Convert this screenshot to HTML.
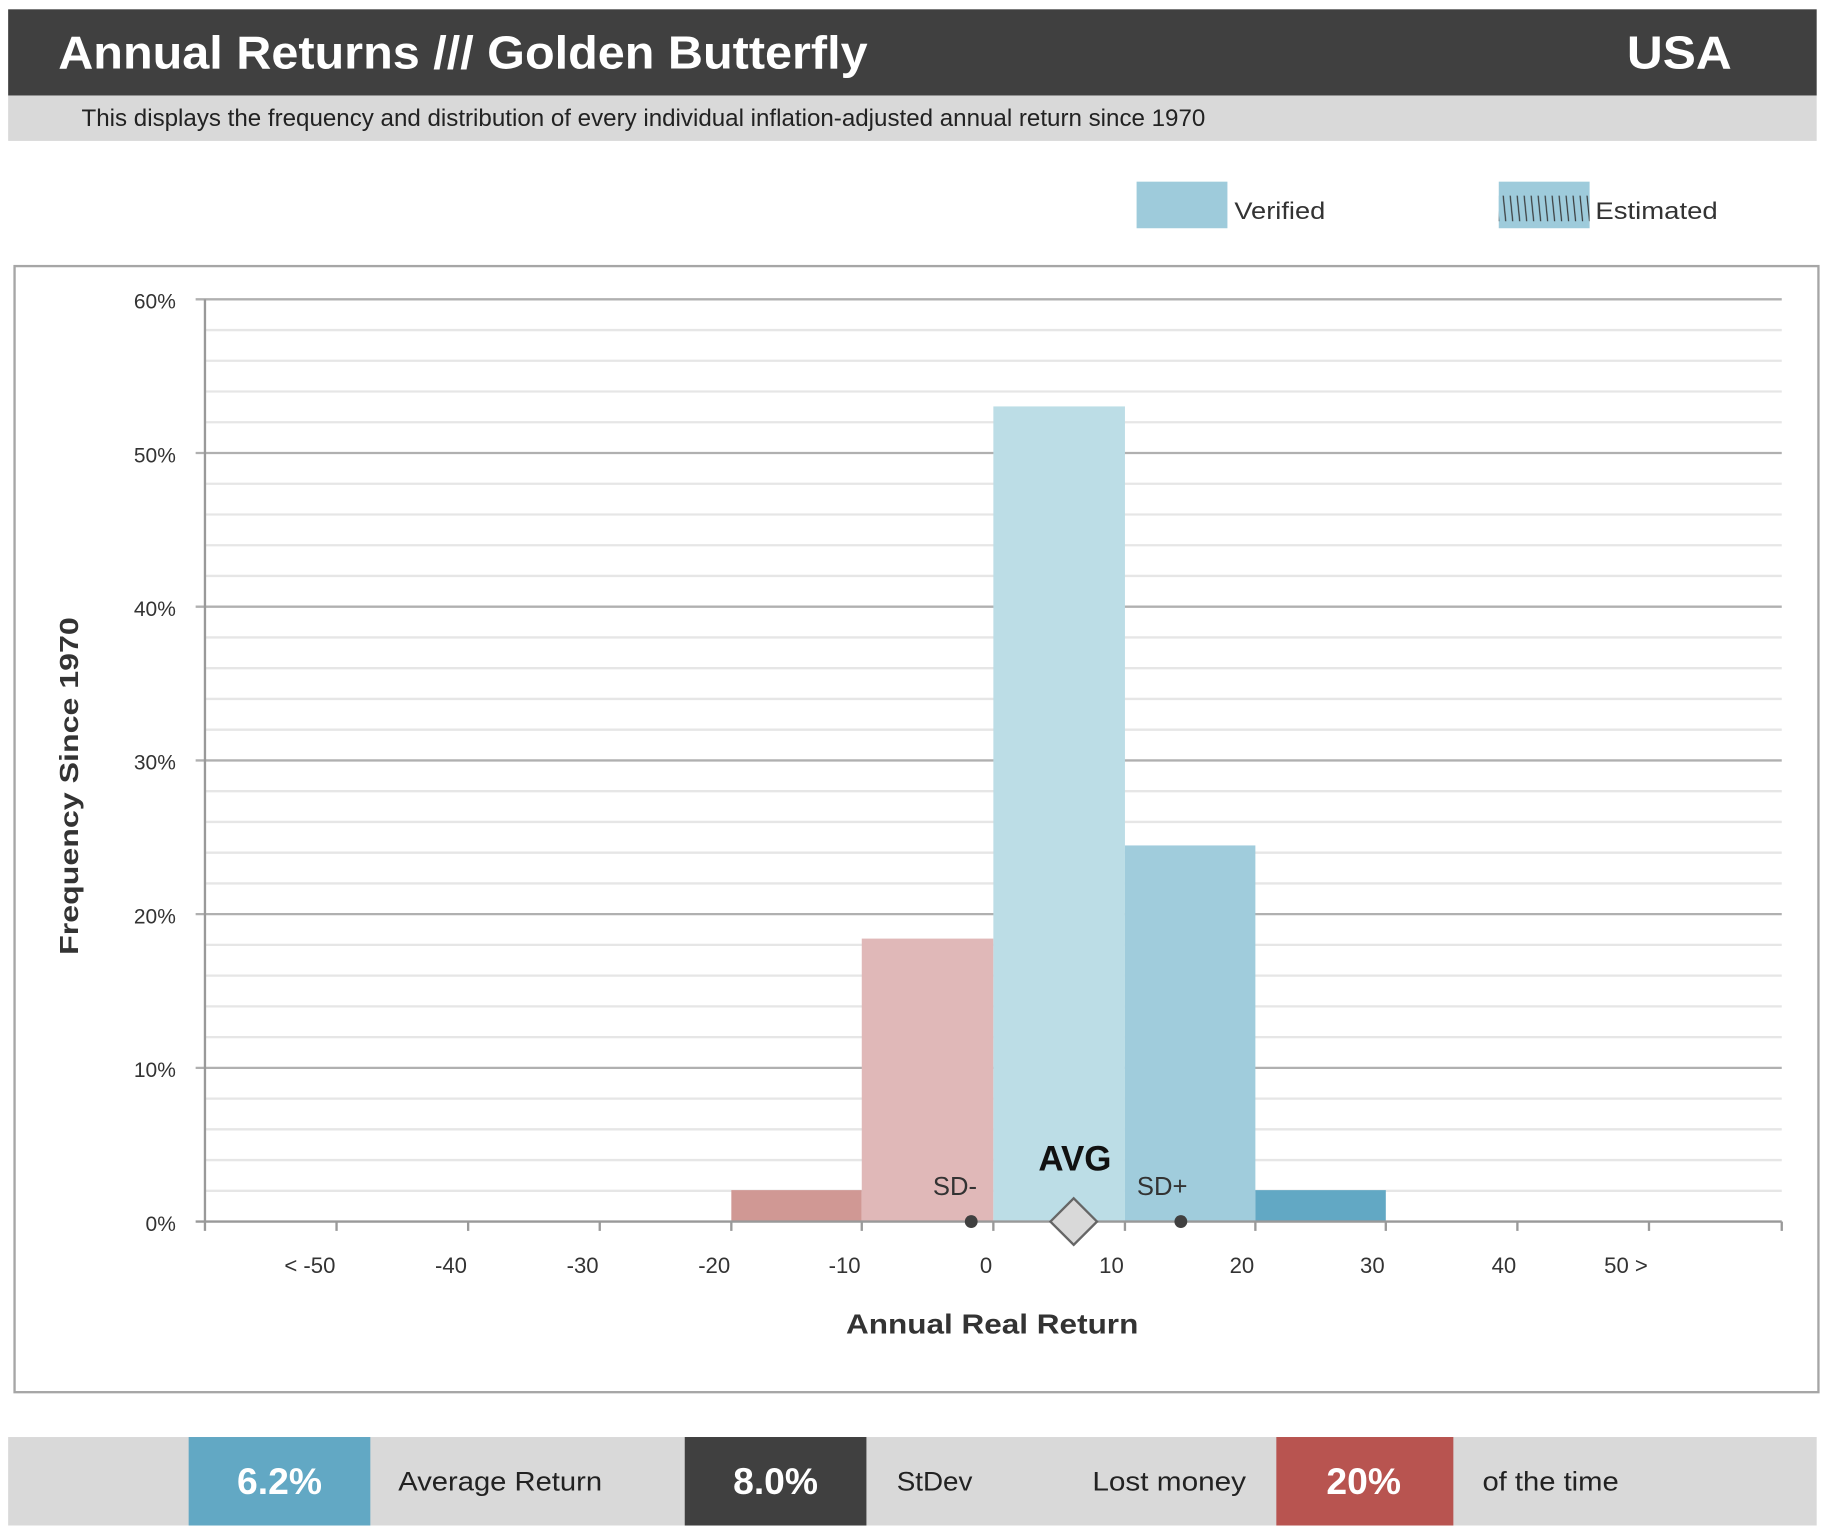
<!DOCTYPE html>
<html><head><meta charset="utf-8"><style>html,body{margin:0;padding:0;background:#fff}svg{display:block}</style></head>
<body>
<svg width="1826" height="1536" viewBox="0 0 1568 1319" preserveAspectRatio="none" xmlns="http://www.w3.org/2000/svg" font-family="Liberation Sans, Arial, sans-serif">
<defs>
<pattern id="h" width="6" height="40" patternUnits="userSpaceOnUse">
<rect width="6" height="40" fill="#9ecbdb"/>
<line x1="0" y1="0" x2="4" y2="40" stroke="#333" stroke-width="1"/>
</pattern>
</defs>
<rect x="7" y="8" width="1553" height="74" fill="#404040"/>
<text x="50" y="59" font-size="40" font-weight="bold" fill="#fff" textLength="695" lengthAdjust="spacingAndGlyphs">Annual Returns /// Golden Butterfly</text>
<text x="1397" y="59" font-size="40" font-weight="bold" fill="#fff" textLength="90" lengthAdjust="spacingAndGlyphs">USA</text>
<rect x="7" y="82" width="1553" height="39" fill="#d9d9d9"/>
<text x="70" y="108" font-size="21" fill="#222" textLength="965" lengthAdjust="spacingAndGlyphs">This displays the frequency and distribution of every individual inflation-adjusted annual return since 1970</text>
<rect x="976" y="156" width="78" height="40" fill="#9ecbdb"/>
<text x="1060" y="188" font-size="21" fill="#333" textLength="78" lengthAdjust="spacingAndGlyphs">Verified</text>
<rect x="1287" y="156" width="78" height="40" fill="#9ecbdb"/>
<rect x="1287" y="168" width="78" height="22" fill="url(#h)"/>
<text x="1370" y="188" font-size="21" fill="#333" textLength="105" lengthAdjust="spacingAndGlyphs">Estimated</text>
<rect x="12.5" y="228.5" width="1549" height="967" fill="#fff" stroke="#a6a6a6" stroke-width="2"/>
<g stroke="#e6e6e6" stroke-width="2">
<line x1="176" y1="283.4" x2="1530" y2="283.4"/><line x1="176" y1="309.8" x2="1530" y2="309.8"/><line x1="176" y1="336.2" x2="1530" y2="336.2"/><line x1="176" y1="362.6" x2="1530" y2="362.6"/>
<line x1="176" y1="415.4" x2="1530" y2="415.4"/><line x1="176" y1="441.8" x2="1530" y2="441.8"/><line x1="176" y1="468.2" x2="1530" y2="468.2"/><line x1="176" y1="494.6" x2="1530" y2="494.6"/>
<line x1="176" y1="547.4" x2="1530" y2="547.4"/><line x1="176" y1="573.8" x2="1530" y2="573.8"/><line x1="176" y1="600.2" x2="1530" y2="600.2"/><line x1="176" y1="626.6" x2="1530" y2="626.6"/>
<line x1="176" y1="679.4" x2="1530" y2="679.4"/><line x1="176" y1="705.8" x2="1530" y2="705.8"/><line x1="176" y1="732.2" x2="1530" y2="732.2"/><line x1="176" y1="758.6" x2="1530" y2="758.6"/>
<line x1="176" y1="811.4" x2="1530" y2="811.4"/><line x1="176" y1="837.8" x2="1530" y2="837.8"/><line x1="176" y1="864.2" x2="1530" y2="864.2"/><line x1="176" y1="890.6" x2="1530" y2="890.6"/>
<line x1="176" y1="943.4" x2="1530" y2="943.4"/><line x1="176" y1="969.8" x2="1530" y2="969.8"/><line x1="176" y1="996.2" x2="1530" y2="996.2"/><line x1="176" y1="1022.6" x2="1530" y2="1022.6"/>
</g>
<g stroke="#b0b0b0" stroke-width="2">
<line x1="168" y1="257" x2="1530" y2="257"/><line x1="168" y1="389" x2="1530" y2="389"/><line x1="168" y1="521" x2="1530" y2="521"/>
<line x1="168" y1="653" x2="1530" y2="653"/><line x1="168" y1="785" x2="1530" y2="785"/><line x1="168" y1="917" x2="1530" y2="917"/>
</g>
<rect x="628" y="1022" width="112" height="27" fill="#d09894"/>
<rect x="740" y="806" width="113" height="243" fill="#e0b8b8"/>
<rect x="853" y="349" width="113" height="700" fill="#bcdde6"/>
<rect x="966" y="726" width="112" height="323" fill="#a0ccdc"/>
<rect x="1078" y="1022" width="112" height="27" fill="#62a8c4"/>
<g stroke="#999" stroke-width="2">
<line x1="176" y1="257" x2="176" y2="1057"/>
<line x1="168" y1="1049" x2="1530" y2="1049"/>
<line x1="289" y1="1049" x2="289" y2="1057"/><line x1="402" y1="1049" x2="402" y2="1057"/><line x1="515" y1="1049" x2="515" y2="1057"/><line x1="628" y1="1049" x2="628" y2="1057"/><line x1="740" y1="1049" x2="740" y2="1057"/><line x1="853" y1="1049" x2="853" y2="1057"/><line x1="966" y1="1049" x2="966" y2="1057"/><line x1="1078" y1="1049" x2="1078" y2="1057"/><line x1="1190" y1="1049" x2="1190" y2="1057"/><line x1="1303" y1="1049" x2="1303" y2="1057"/><line x1="1416" y1="1049" x2="1416" y2="1057"/><line x1="1530" y1="1049" x2="1530" y2="1057"/>
</g>
<g font-size="18" fill="#333" text-anchor="end">
<text x="151" y="265">60%</text><text x="151" y="397">50%</text><text x="151" y="529">40%</text><text x="151" y="661">30%</text><text x="151" y="793">20%</text><text x="151" y="925">10%</text><text x="151" y="1057">0%</text>
</g>
<g font-size="19" fill="#333" text-anchor="end">
<text x="288" y="1093">&lt; -50</text><text x="401" y="1093">-40</text><text x="514" y="1093">-30</text><text x="627" y="1093">-20</text><text x="739" y="1093">-10</text><text x="852" y="1093">0</text><text x="965" y="1093">10</text><text x="1077" y="1093">20</text><text x="1189" y="1093">30</text><text x="1302" y="1093">40</text><text x="1415" y="1093">50 &gt;</text>
</g>
<text x="852" y="1145" font-size="24" font-weight="bold" fill="#333" text-anchor="middle" textLength="251" lengthAdjust="spacingAndGlyphs">Annual Real Return</text>
<text transform="translate(67,675) rotate(-90)" font-size="22" font-weight="bold" fill="#333" text-anchor="middle" textLength="290" lengthAdjust="spacingAndGlyphs">Frequency Since 1970</text>
<text x="820" y="1026" font-size="22" fill="#333" text-anchor="middle">SD-</text>
<text x="998" y="1026" font-size="22" fill="#333" text-anchor="middle">SD+</text>
<text x="923" y="1005" font-size="30" font-weight="bold" fill="#111" text-anchor="middle">AVG</text>
<circle cx="834" cy="1049" r="5.5" fill="#404040"/>
<circle cx="1014" cy="1049" r="5.5" fill="#404040"/>
<polygon points="922,1029 942,1049 922,1069 902,1049" fill="#d9d9d9" stroke="#666" stroke-width="2"/>
<rect x="7" y="1234" width="1553" height="76" fill="#d9d9d9"/>
<rect x="162" y="1234" width="156" height="76" fill="#62a8c4"/>
<rect x="588" y="1234" width="156" height="76" fill="#404040"/>
<rect x="1096" y="1234" width="152" height="76" fill="#b85450"/>
<g font-size="32" font-weight="bold" fill="#fff" text-anchor="middle">
<text x="240" y="1283">6.2%</text><text x="666" y="1283">8.0%</text><text x="1171" y="1283">20%</text>
</g>
<g font-size="23" fill="#222">
<text x="342" y="1280" textLength="175" lengthAdjust="spacingAndGlyphs">Average Return</text>
<text x="770" y="1280" textLength="65" lengthAdjust="spacingAndGlyphs">StDev</text>
<text x="938" y="1280" textLength="132" lengthAdjust="spacingAndGlyphs">Lost money</text>
<text x="1273" y="1280" textLength="117" lengthAdjust="spacingAndGlyphs">of the time</text>
</g>
</svg>
</body></html>
